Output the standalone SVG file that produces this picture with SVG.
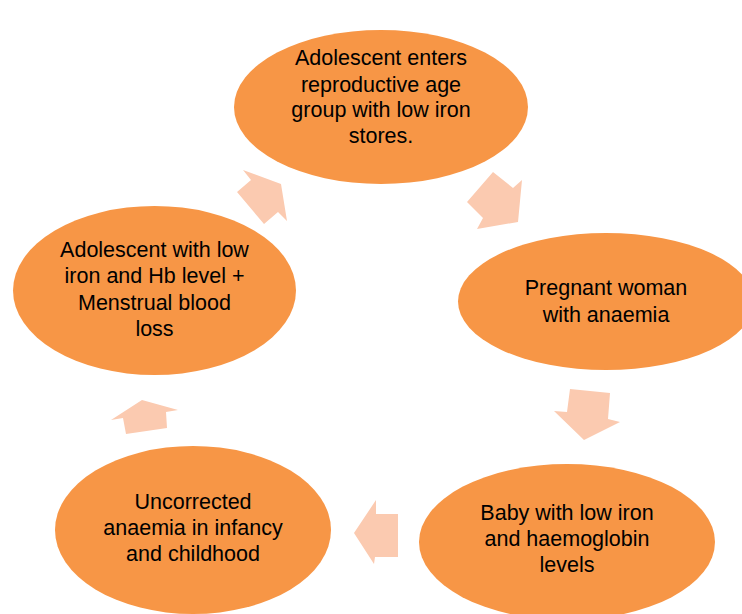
<svg xmlns="http://www.w3.org/2000/svg" width="742" height="614" viewBox="0 0 742 614">
<style>
.node{fill:#F79646;}
.lbl{font-family:"Liberation Sans",Arial,sans-serif;font-size:21.5px;fill:#000;text-anchor:middle;}
.arr{fill:#FBCAB0;}
</style>
<rect width="742" height="614" fill="#fff"/>
<g id="connectors">
<polygon class="arr" points="281,184 287,221 278,212 264,224 237,192 251,180 243,170"/>
<polygon class="arr" points="518,222 477,229 483,218 467,202 493,172 513,188 522,180"/>
<polygon class="arr" points="584,440 554,411 567,412 570,389 610,393 608,419 620,422"/>
<polygon class="arr" points="354,533 376,500 376,514 398,514 398,557 375,557 374,564"/>
<polygon class="arr" points="142,400 111,420 123,418 126,434 167,428 166,412 178,410"/>
</g>
<g id="node-top">
<ellipse class="node" cx="381" cy="107" rx="147" ry="77"/>
<text class="lbl" x="381" y="65">Adolescent enters</text>
<text class="lbl" x="381" y="91.5">reproductive age</text>
<text class="lbl" x="381" y="117">group with low iron</text>
<text class="lbl" x="381" y="143">stores.</text>
</g>
<g id="node-right">
<ellipse class="node" cx="606" cy="301.5" rx="148" ry="68.5"/>
<text class="lbl" x="606" y="295">Pregnant woman</text>
<text class="lbl" x="606" y="321.5">with anaemia</text>
</g>
<g id="node-bottom-right">
<ellipse class="node" cx="567" cy="542" rx="148" ry="78"/>
<text class="lbl" x="567" y="519.5">Baby with low iron</text>
<text class="lbl" x="567" y="546">and haemoglobin</text>
<text class="lbl" x="567" y="572">levels</text>
</g>
<g id="node-bottom-left">
<ellipse class="node" cx="193" cy="530" rx="138" ry="84"/>
<text class="lbl" x="193" y="508.5">Uncorrected</text>
<text class="lbl" x="193" y="535">anaemia in infancy</text>
<text class="lbl" x="193" y="561">and childhood</text>
</g>
<g id="node-left">
<ellipse class="node" cx="154.5" cy="290.5" rx="141.5" ry="84.5"/>
<text class="lbl" x="154.5" y="257">Adolescent with low</text>
<text class="lbl" x="154.5" y="283">iron and Hb level +</text>
<text class="lbl" x="154.5" y="310">Menstrual blood</text>
<text class="lbl" x="154.5" y="335.5">loss</text>
</g>
</svg>
